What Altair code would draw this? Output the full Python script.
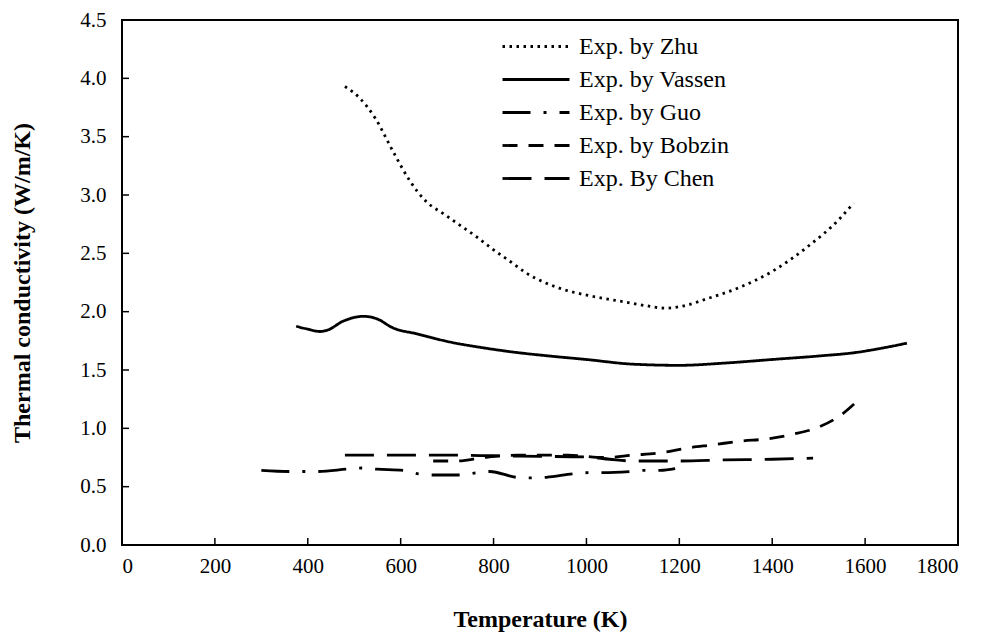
import altair as alt
import pandas as pd

# ---- data ----
series_names = ["Exp. by Zhu", "Exp. by Vassen", "Exp. by Guo", "Exp. by Bobzin", "Exp. By Chen"]

zhu_T = [480, 512, 545, 584, 620, 656, 692, 728, 764, 800, 836, 871, 943, 1015, 1087, 1130, 1170, 1210, 1259, 1331, 1402, 1474, 1546, 1575]
zhu_k = [3.93, 3.83, 3.66, 3.37, 3.12, 2.94, 2.84, 2.74, 2.64, 2.53, 2.43, 2.33, 2.20, 2.13, 2.08, 2.05, 2.03, 2.05, 2.11, 2.21, 2.35, 2.55, 2.80, 2.93]

vassen_T = [375, 400, 426, 441, 477, 520, 548, 584, 635, 706, 778, 850, 920, 1000, 1100, 1200, 1300, 1400, 1500, 1580, 1640, 1690]
vassen_k = [1.875, 1.85, 1.83, 1.84, 1.92, 1.96, 1.94, 1.86, 1.81, 1.74, 1.69, 1.65, 1.62, 1.59, 1.55, 1.54, 1.56, 1.59, 1.62, 1.65, 1.69, 1.73]

guo_T = [300, 360, 423, 484, 516, 549, 605, 638, 670, 728, 764, 792, 850, 882, 914, 971, 1004, 1036, 1094, 1126, 1159, 1191]
guo_k = [0.64, 0.63, 0.63, 0.65, 0.66, 0.65, 0.64, 0.61, 0.60, 0.60, 0.62, 0.63, 0.58, 0.575, 0.58, 0.61, 0.62, 0.62, 0.63, 0.64, 0.64, 0.655]

bobzin_T = [670, 720, 780, 850, 920, 960, 1040, 1100, 1160, 1215, 1275, 1330, 1390, 1445, 1500, 1550, 1585]
bobzin_k = [0.72, 0.72, 0.75, 0.77, 0.77, 0.77, 0.75, 0.77, 0.79, 0.83, 0.86, 0.89, 0.91, 0.95, 1.01, 1.12, 1.24]

chen_T = [480, 600, 700, 800, 900, 1000, 1050, 1100, 1200, 1300, 1400, 1488]
chen_k = [0.77, 0.77, 0.77, 0.765, 0.76, 0.755, 0.735, 0.72, 0.72, 0.73, 0.735, 0.745]

x_ticks = [0, 200, 400, 600, 800, 1000, 1200, 1400, 1600, 1800]
y_ticks = [0.0, 0.5, 1.0, 1.5, 2.0, 2.5, 3.0, 3.5, 4.0, 4.5]

# ---- build table ----
rows = []
for name, T, k in zip(series_names,
                      [zhu_T, vassen_T, guo_T, bobzin_T, chen_T],
                      [zhu_k, vassen_k, guo_k, bobzin_k, chen_k]):
    for t, v in zip(T, k):
        rows.append({"T": t, "k": v, "series": name})
df = pd.DataFrame(rows)

dashes = [[2.5, 4.5], [1, 0], [28, 13, 3, 13], [15, 11], [29, 13]]

W, H = 836, 525
FONT = "Liberation Serif"

xscale = alt.Scale(domain=[0, 1800], nice=False, zero=False)
yscale = alt.Scale(domain=[0, 4.5], nice=False)

lines = alt.Chart(df).mark_line(color="black", strokeWidth=2.8, interpolate="monotone").encode(
    x=alt.X("T:Q", scale=xscale, title="Temperature (K)",
            axis=alt.Axis(values=x_ticks, format="d", titleX=W / 2, titleY=74)),
    y=alt.Y("k:Q", scale=yscale, title="Thermal conductivity (W/m/K)",
            axis=alt.Axis(values=y_ticks, format=".1f", titleX=-100, titleY=H / 2)),
    strokeDash=alt.StrokeDash(
        "series:N",
        scale=alt.Scale(domain=series_names, range=dashes),
        legend=alt.Legend(
            title=None, orient="none", legendX=379, legendY=10,
            symbolType="stroke", symbolSize=67 * 67, clipHeight=33,
            symbolStrokeWidth=2.8, symbolStrokeColor="black",
            labelFont=FONT, labelFontSize=24, labelColor="black",
            labelOffset=8, rowPadding=0, padding=0,
        ),
    ),
    detail="series:N",
)

xt = pd.DataFrame({"T": x_ticks[1:-1]})
yt = pd.DataFrame({"k": y_ticks[1:-1]})

xtick_layer = alt.Chart(xt).mark_rule(color="black", strokeWidth=1.5).encode(
    x=alt.X("T:Q", scale=xscale), y=alt.value(H), y2=alt.value(H - 7)
)
ytick_layer = alt.Chart(yt).mark_rule(color="black", strokeWidth=1.5).encode(
    y=alt.Y("k:Q", scale=yscale), x=alt.value(0), x2=alt.value(7)
)

chart = alt.layer(lines, xtick_layer, ytick_layer).properties(
    width=W, height=H,
    autosize=alt.AutoSizeParams(type="none"),
    padding={"left": 114, "top": 12, "right": 30, "bottom": 88},
    background="white",
).configure_view(
    stroke="black", strokeWidth=2
).configure_axis(
    grid=False, domain=False, ticks=False,
    labelFont=FONT, labelFontSize=21, labelColor="black",
    titleFont=FONT, titleFontSize=24, titleFontWeight="bold", titleColor="black",
).configure_axisX(
    labelPadding=10, titleBaseline="middle"
).configure_axisY(
    labelPadding=16, titleBaseline="middle"
)

chart.save("out.html", embed_options={"renderer": "svg", "actions": False})
